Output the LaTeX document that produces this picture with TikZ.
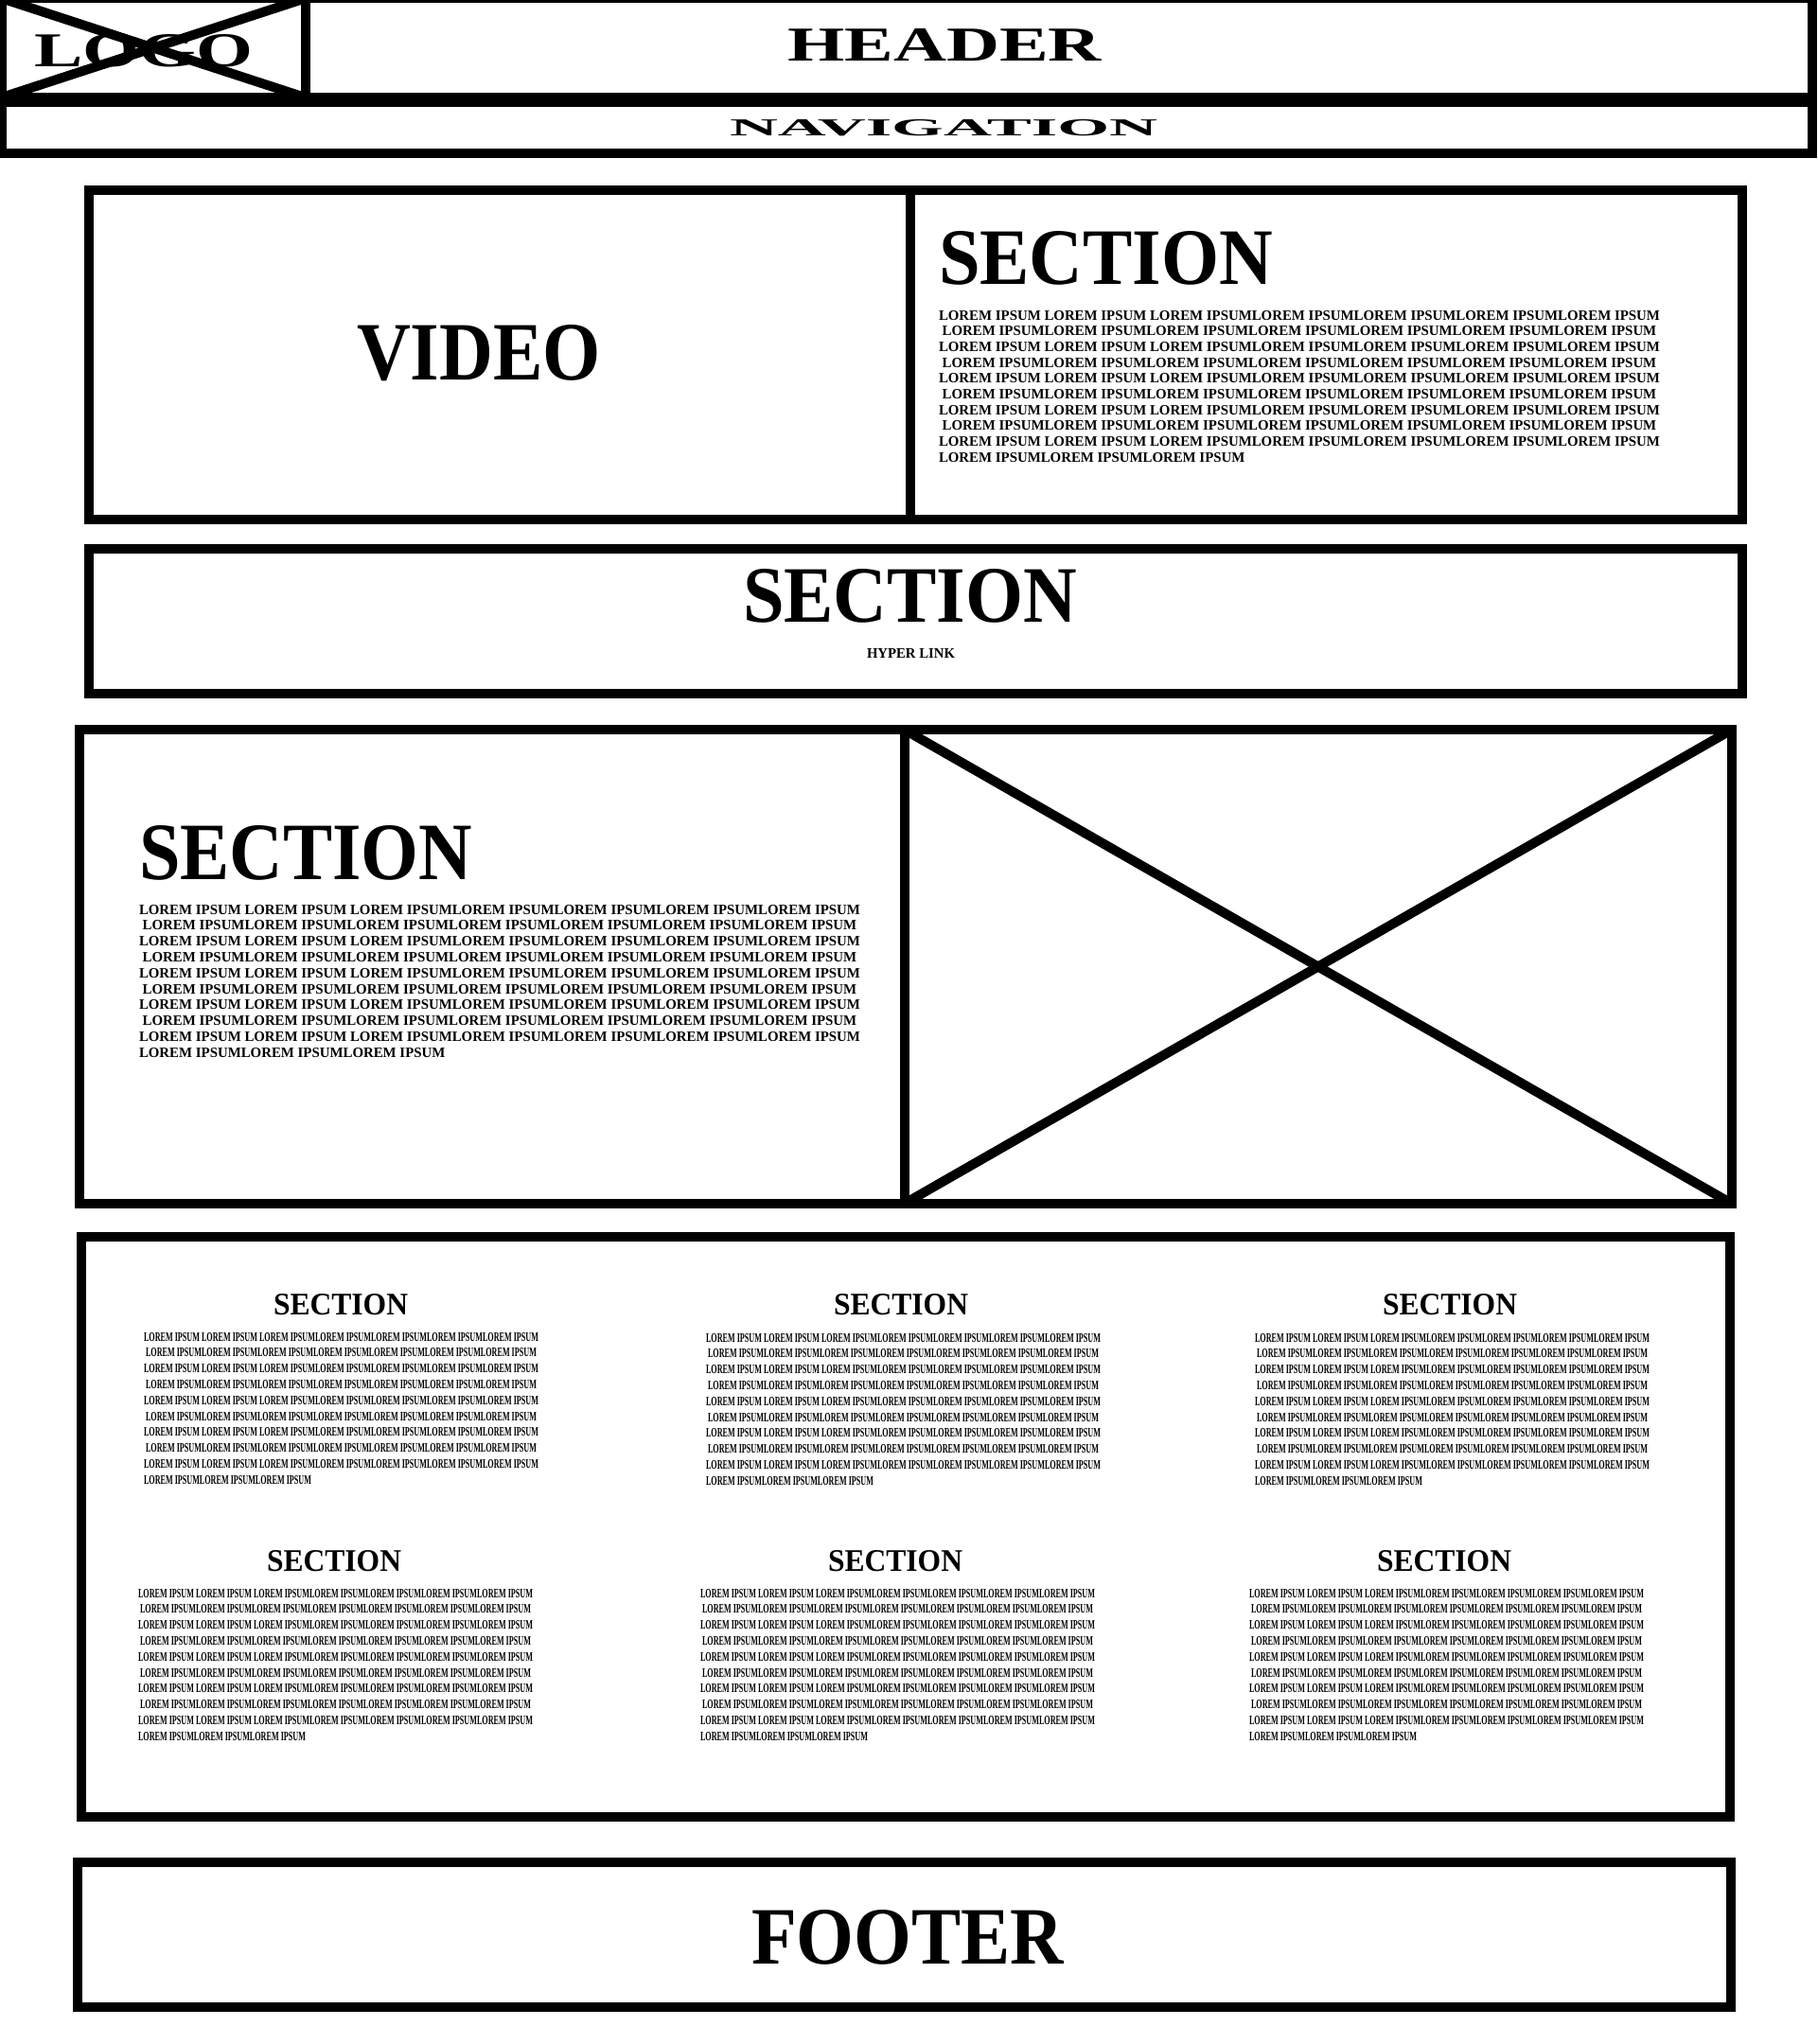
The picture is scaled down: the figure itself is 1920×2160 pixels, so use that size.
\documentclass[tikz,border=0pt]{standalone}
\usepackage{fontspec}
\setmainfont{Liberation Serif}
\usepackage{graphicx}
\newcommand\loremA{LOREM IPSUM LOREM IPSUM LOREM IPSUMLOREM IPSUMLOREM IPSUMLOREM IPSUMLOREM IPSUM}
\newcommand\loremB{LOREM IPSUMLOREM IPSUMLOREM IPSUMLOREM IPSUMLOREM IPSUMLOREM IPSUMLOREM IPSUM}
\newcommand\loremC{LOREM IPSUMLOREM IPSUMLOREM IPSUM}
\newcommand\fitbox[3]{\resizebox{#1pt}{#2pt}{\bfseries #3}}
% #1 name, #2 x, #3 top y, #4 width, #5 cap height, #6 line spacing
\newcommand\loremblock[6]{%
  \pgfmathsetmacro\lbWB{#4*0.9902}%
  \pgfmathsetmacro\lbWC{#4*0.4244}%
  \foreach \i in {0,2,4,6,8}{\node[txt,anchor=north west] (#1-\i) at (#2,#3+\i*#6) {\fitbox{#4}{#5}{\loremA}};}
  \foreach \i in {1,3,5,7}{\node[txt,anchor=north] (#1-\i) at (#2+#4/2,#3+\i*#6) {\fitbox{\lbWB}{#5}{\loremB}};}
  \node[txt,anchor=north west] (#1-9) at (#2,#3+9*#6) {\fitbox{\lbWC}{#5}{\loremC}};
}
\begin{document}
\begin{tikzpicture}[x=1pt,y=-1pt,
  frame/.style={draw=black,line width=10pt},
  txt/.style={inner sep=0pt,outer sep=0pt,text=black}]
\useasboundingbox (0,0) rectangle (1920,2160);
\fill[white] (0,0) rectangle (1920,2160);

% header and navigation
\draw[frame] (1.7,-1.7) rectangle (1915,103);
\draw[frame] (1.7,108) rectangle (1915,162);
\node[txt,anchor=north west] (logo) at (36,36) {\fitbox{231}{34}{LOGO}};
\draw[frame] (322.5,-1.7) -- (322.5,103);
\draw[frame] (1.7,-1.7) -- (322.5,103);
\draw[frame] (322.5,-1.7) -- (1.7,103);
\node[txt,anchor=north west] (header) at (832,30) {\fitbox{332}{34}{HEADER}};
\node[txt,anchor=north west] (nav) at (771,126) {\fitbox{452}{17}{NAVIGATION}};

% section 1: video + text
\draw[frame] (94,201) rectangle (1841,549);
\draw[frame] (961.5,201) -- (961.5,549);
\node[txt,anchor=north west] (video) at (377,343) {\fitbox{258}{58}{VIDEO}};
\node[txt,anchor=north west] (s1title) at (992,244) {\fitbox{353}{56}{SECTION}};
\loremblock{s1}{992}{328}{762}{10}{16.7}

% section 2: hyperlink
\draw[frame] (94,580) rectangle (1841,733);
\node[txt,anchor=north west] (s2title) at (785,601) {\fitbox{353}{56}{SECTION}};
\node[txt,anchor=north west] (link) at (916,685) {\fitbox{93}{10}{HYPER LINK}};

% section 3: text + image placeholder
\draw[frame] (84,771) rectangle (1830,1272);
\draw[frame] (955.5,771) -- (955.5,1272);
\draw[frame] (955.5,771) -- (1830,1272);
\draw[frame] (1830,771) -- (955.5,1272);
\node[txt,anchor=north west] (s3title) at (147,872) {\fitbox{352}{57}{SECTION}};
\loremblock{s3}{147}{956}{762}{10}{16.8}

% section 4: grid of six
\draw[frame] (86,1307) rectangle (1828,1920);
\node[txt,anchor=north west] (g1) at (289,1367) {\fitbox{142}{22}{SECTION}};
\node[txt,anchor=north west] (g2) at (881,1367) {\fitbox{142}{22}{SECTION}};
\node[txt,anchor=north west] (g3) at (1461,1367) {\fitbox{142}{22}{SECTION}};
\node[txt,anchor=north west] (g4) at (282,1638) {\fitbox{142}{22}{SECTION}};
\node[txt,anchor=north west] (g5) at (875,1638) {\fitbox{142}{22}{SECTION}};
\node[txt,anchor=north west] (g6) at (1455,1638) {\fitbox{142}{22}{SECTION}};
\loremblock{ga}{152}{1408}{417}{9}{16.8}
\loremblock{gb}{746}{1409}{417}{9}{16.8}
\loremblock{gc}{1326}{1409}{417}{9}{16.8}
\loremblock{gd}{146}{1679}{417}{9}{16.8}
\loremblock{ge}{740}{1679}{417}{9}{16.8}
\loremblock{gf}{1320}{1679}{417}{9}{16.8}

% footer
\draw[frame] (82,1968) rectangle (1829,2121);
\node[txt,anchor=north west] (footer) at (794,2018) {\fitbox{330}{57}{FOOTER}};
\end{tikzpicture}
\end{document}
